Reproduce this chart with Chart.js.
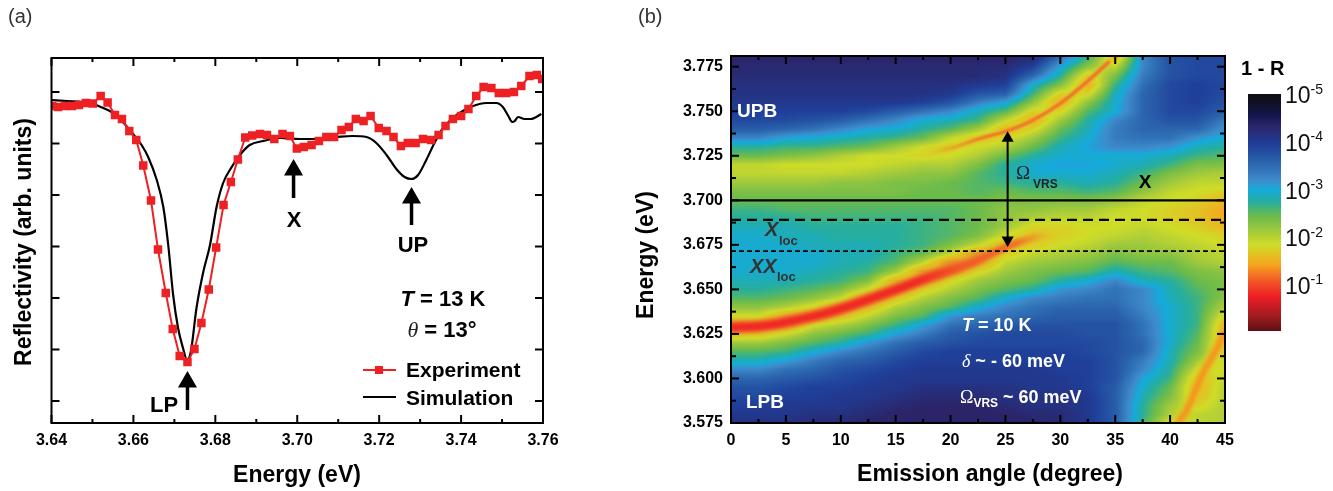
<!DOCTYPE html>
<html>
<head>
<meta charset="utf-8">
<title>Reflectivity and dispersion</title>
<script src="https://cdn.jsdelivr.net/npm/chart.js@4"></script>
<style>
  html, body { margin: 0; padding: 0; background: #fff; }
  #stage { position: relative; width: 1333px; height: 491px; overflow: hidden; }
  canvas { position: absolute; top: 0; }
</style>
</head>
<body>
<div id="stage">
  <canvas id="reflectChart" width="620" height="491" style="left:0"></canvas>
  <canvas id="heatChart" width="620" height="491" style="left:620px"></canvas>
  <canvas id="barChart" width="93" height="491" style="left:1240px"></canvas>
</div>
<script>
// panel (a) - reflectivity, y is in arbitrary units
const expEnergy = [3.6402,3.6416,3.6433,3.6450,3.6467,3.6484,3.6501,3.6520,3.6537,3.6555,3.6572,3.6590,3.6607,3.6624,3.6643,
  3.6660,3.6679,3.6696,3.6713,3.6732,3.6749,3.6766,3.6784,3.6802,
  3.6820,3.6838,3.6855,3.6873,3.6890,3.6909,3.6926,3.6944,3.6964,3.6982,3.6999,
  3.7016,3.7035,3.7053,3.7071,3.7090,3.7108,3.7126,3.7143,3.7162,3.7179,3.7199,3.7218,3.7235,3.7253,3.7270,3.7289,3.7307,3.7327,
  3.7345,3.7362,3.7380,3.7400,3.7418,3.7437,3.7455,3.7474,3.7492,3.7510,3.7529,3.7547,3.7567,3.7585,3.7598];
const expReflect = [317,316,317,317,318,320,319.5,327,320.5,308,304,292,283,257.5,222.5,
  173.5,130,94,67,61,74,100,133.5,175.5,
  218,241,263.5,285.5,287.5,289,288,284,289,287,274.5,
  276,278,282,286,286,293,296,304,302,307,295,292,286,277,280,280,284,283,
  288,297,304,307,314,327,336,335,330,330,331,337,347,348,344];
const simEnergy = [3.6400,3.6437,3.6477,3.6501,3.6526,3.6550,3.6574,3.6599,3.6620,3.6636,3.6657,3.6673,3.6685,3.6697,3.6709,3.6721,3.6731,3.6740,3.6754,3.6770,3.6787,
  3.6803,3.6819,3.6840,3.6860,3.6884,3.6917,3.6957,3.7006,3.7038,3.7096,3.7135,3.7169,3.7193,3.7218,3.7242,3.7262,3.7279,3.7295,3.7315,3.7335,3.7356,3.7380,3.7404,3.7429,3.7461,3.7486,3.7502,3.7514,3.7525,3.7531,3.7539,3.7555,3.7571,3.7596];
const simReflect = [323,322,321,319,315,310,301,289,278,266,243,216,178,128,95,75,63,71,115,150,178,
  216,240,256,268,278,282,285,284,284,286,287,286,280,268,254,246,244,248,263,280,295,305,312,317,320,320,316,308,301,302,306,304,304,309];
const arrowX = [[3.6991,225],[3.6991,253]];
const arrowUP = [[3.7279,198],[3.7279,225]];
const arrowLP = [[3.6732,13],[3.6732,41]];

// panel (b) - values are -log10(1-R) x 10, one list per angle, bottom (3.575) to top (3.78)
const heatAngles = [0,2.5,5,7.5,10,12.5,15,17.5,20,22.5,25,27.5,30,32.5,35,37.5,40,42.5,45];
const heatEnergies = [3.575,3.58,3.585,3.59,3.595,3.6,3.605,3.61,3.615,3.62,3.625,3.63,3.635,3.64,3.645,3.65,3.655,3.66,3.665,3.67,3.675,3.68,3.685,3.69,3.695,3.7,3.705,3.71,3.715,3.72,3.725,3.73,3.735,3.74,3.745,3.75,3.755,3.76,3.765,3.77,3.775,3.78];
const heatValues = [
  [42,41,40,39,38,36,33,29,26,22,16,10,19,23,26,28,29,30,30,30,30,30,29,28,27,25,24,22,20,20,25,28,33,37,39,40,41,42,42,43,43,44],
  [42,41,40,39,38,36,33,29,26,22,16,10,19,23,26,28,29,30,30,30,30,30,29,28,27,25,24,22,20,20,25,28,33,37,39,40,41,42,42,43,43,44],
  [42,41,41,40,39,37,35,31,27,24,19,11,13,21,25,27,29,30,30,30,30,29,29,28,26,25,24,22,20,19,24,27,31,36,39,40,41,42,42,43,43,44],
  [43,42,41,40,40,38,36,34,30,26,23,19,10,18,23,26,28,29,30,30,29,29,28,27,26,25,24,22,20,19,23,27,30,35,38,40,41,42,42,43,43,44],
  [43,42,41,41,40,39,38,36,33,28,25,21,15,11,20,24,27,28,29,29,29,28,28,27,26,25,24,23,20,19,21,26,29,33,37,40,41,42,42,43,43,44],
  [44,43,42,41,41,40,39,37,35,32,27,24,20,15,10,19,24,27,28,29,29,28,28,27,26,25,24,23,21,19,19,25,28,31,35,39,41,42,42,43,43,44],
  [44,44,43,42,41,41,40,39,37,35,31,27,24,21,16,11,14,22,26,27,28,28,28,27,26,25,24,24,22,20,19,22,27,30,33,37,41,42,42,43,43,44],
  [44,44,44,43,42,41,41,40,39,37,34,31,26,24,21,17,12,12,20,25,27,27,27,27,26,25,25,24,23,21,18,19,25,28,30,35,40,42,42,43,43,44],
  [44,44,44,43,42,41,41,40,40,38,37,35,32,26,24,21,18,12,11,20,24,26,26,26,26,25,25,25,23,21,19,17,20,26,29,33,38,41,42,43,43,44],
  [44,44,44,43,42,41,41,40,40,39,38,36,34,30,26,24,22,18,12,11,20,24,25,25,25,25,26,26,26,24,21,19,16,22,27,29,34,38,41,43,43,44],
  [44,44,43,42,42,41,41,40,40,39,39,37,35,33,30,26,24,22,20,17,14,19,22,23,23,24,25,27,28,28,25,21,18,15,20,26,31,37,40,42,43,44],
  [44,43,42,42,41,41,41,40,40,39,39,38,36,35,33,28,25,24,22,20,17,15,18,21,23,24,26,28,30,30,28,25,22,18,14,18,23,27,30,36,40,43],
  [43,43,42,42,41,41,40,40,40,39,39,38,37,36,34,32,28,25,23,21,19,18,18,20,22,24,26,28,30,31,30,29,27,25,22,18,14,18,24,28,31,35],
  [41,41,41,41,40,40,40,40,39,39,38,38,37,36,35,33,30,26,24,22,20,19,19,20,22,24,27,29,30,31,30,31,30,29,28,26,23,18,14,17,23,27],
  [37,37,37,37,37,38,38,38,38,38,38,38,37,36,35,35,33,29,26,24,22,20,19,19,20,23,26,28,29,30,30,33,34,34,33,30,30,29,27,24,20,15],
  [27,28,28,29,30,31,33,34,36,36,35,35,34,33,33,33,29,27,25,23,22,21,20,19,19,20,23,25,27,29,30,33,35,36,36,36,36,36,35,34,33,33],
  [18,21,22,24,25,27,28,29,29,30,30,30,30,30,29,29,28,26,25,23,21,20,19,18,18,19,20,22,24,27,29,32,35,36,38,39,39,39,39,38,38,38],
  [20,20,18,16,15,16,19,22,24,25,26,27,27,27,27,26,25,24,22,21,20,19,18,17,17,18,19,20,22,24,27,29,32,36,38,39,40,40,40,39,39,39],
  [21,21,21,21,21,20,19,18,17,15,15,15,18,21,23,24,24,23,21,20,19,18,16,15,15,16,18,20,21,24,26,28,30,32,34,37,38,39,39,39,39,39]
];
// bright crests of the branches
const lowerAngle = [0,2.5,4.5,9,13.6,18.1,22,25,27,28.7,31];
const lowerEnergy = [3.6287,3.6293,3.631,3.6373,3.6467,3.6569,3.6651,3.6736,3.678,3.6805,3.683];
const upperAngle = [18,20,22.7,25.1,27.5,30,32.4,34.5];
const upperEnergy = [3.7265,3.7292,3.7348,3.7388,3.7449,3.7544,3.7664,3.7781];
const sideAngle = [40.7,41.5,43,44.2,45];
const sideEnergy = [3.575,3.582,3.603,3.616,3.627];
const lineX = 3.7;
const lineXloc = 3.689;
const lineXXloc = 3.6715;
const arrowVRS = [[25.2,3.6777],[25.2,3.7348]];

// colour scale, value -log10(1-R) against colour
const scaleLevels = [5.06,4.9,4.6,4.4,4.0,3.6,3.25,3.05,2.8,2.5,2.15,1.9,1.5,1.15,0.8,0.4,0.09];
const scaleColors = ["#0d0f14","#0f1020","#141650","#2b2468","#1f3f99","#2b66ae","#3e8ccb","#15aadb","#26ae9e","#6bbb4b","#a8cb3a","#cfdc28","#f5a81f","#f15a26","#ed1c24","#a01c20","#5e1012"];
const scaleTicks = [5,4,3,2,1];

const FONT = '"Liberation Sans", Arial, sans-serif';
const pts = (xs, ys) => xs.map((x, i) => ({ x, y: ys[i] }));
const pairs = list => list.map(p => ({ x: p[0], y: p[1] }));

function hexRgb(hex) {
  return [1, 3, 5].map(i => parseInt(hex.slice(i, i + 2), 16));
}

function levelColor(level) {
  let i = 0;
  while (i < scaleLevels.length - 2 && level < scaleLevels[i + 1]) i++;
  const a = hexRgb(scaleColors[i]), b = hexRgb(scaleColors[i + 1]);
  const t = Math.min(1, Math.max(0, (scaleLevels[i] - level) / (scaleLevels[i] - scaleLevels[i + 1])));
  return a.map((v, k) => Math.round(v + (b[k] - v) * t));
}

// value of the table at an angle and energy, between its four nearest cells
function heatAt(angle, energy) {
  const fx = Math.min(heatAngles.length - 1.001, Math.max(0, angle / (heatAngles[1] - heatAngles[0])));
  const fy = Math.min(heatEnergies.length - 1.001, Math.max(0, (energy - heatEnergies[0]) / (heatEnergies[1] - heatEnergies[0])));
  const i = Math.floor(fx), j = Math.floor(fy), u = fx - i, v = fy - j;
  const a = heatValues[i], b = heatValues[i + 1];
  return ((a[j] * (1 - u) + b[j] * u) * (1 - v) + (a[j + 1] * (1 - u) + b[j + 1] * u) * v) / 10;
}

// text made of several runs, e.g. a subscript after a letter
function textRuns(ctx, x, y, runs, align) {
  ctx.save();
  ctx.textBaseline = "middle";
  ctx.textAlign = "left";
  let width = 0;
  runs.forEach(r => { ctx.font = r.font; width += ctx.measureText(r.text).width; });
  let cx = align === "center" ? x - width / 2 : x;
  runs.forEach(r => {
    ctx.font = r.font;
    ctx.fillStyle = r.color || "#000";
    ctx.fillText(r.text, cx, y + (r.dy || 0));
    cx += ctx.measureText(r.text).width;
  });
  ctx.restore();
}

function bold(text, size, extra) {
  return Object.assign({ text, font: "bold " + size + "px " + FONT }, extra);
}

function axisTitle(ctx, text, x, y, size, rotate) {
  ctx.save();
  ctx.translate(x, y);
  if (rotate) ctx.rotate(-Math.PI / 2);
  ctx.textAlign = "center";
  ctx.textBaseline = "middle";
  ctx.font = "bold " + size + "px " + FONT;
  ctx.fillStyle = "#000";
  ctx.fillText(text, 0, 0);
  ctx.restore();
}

// inward ticks on all four sides plus the frame
function drawFrame(chart, xMajor, xMinor, yMajor, yMinor) {
  const { ctx, chartArea: a, scales } = chart;
  ctx.save();
  ctx.strokeStyle = "#000";
  ctx.lineWidth = 2;
  const tick = (x1, y1, x2, y2) => { ctx.beginPath(); ctx.moveTo(x1, y1); ctx.lineTo(x2, y2); ctx.stroke(); };
  const xTicks = (list, len) => list.forEach(v => {
    const p = scales.x.getPixelForValue(v);
    tick(p, a.bottom, p, a.bottom - len);
    tick(p, a.top, p, a.top + len);
  });
  const yTicks = (list, len) => list.forEach(v => {
    const p = scales.y.getPixelForValue(v);
    tick(a.left, p, a.left + len, p);
    tick(a.right, p, a.right - len, p);
  });
  xTicks(xMajor, 8); xTicks(xMinor, 4);
  yTicks(yMajor, 8); yTicks(yMinor, 5);
  ctx.lineWidth = 2;
  ctx.strokeRect(a.left, a.top, a.right - a.left, a.bottom - a.top);
  ctx.restore();
}

function axesOptions(xMin, xMax, xStep, xDigits, yMin, yMax, yStep, yLabels, yWidth) {
  return {
    x: {
      type: "linear", min: xMin, max: xMax,
      grid: { display: false }, border: { display: false },
      afterFit: s => { s.height = 30; },
      ticks: {
        stepSize: xStep, includeBounds: false, maxRotation: 0, autoSkip: false, padding: 0,
        color: "#000", font: { family: FONT, size: 16, weight: "bold" },
        callback: v => v.toFixed(xDigits)
      }
    },
    y: {
      type: "linear", min: yMin, max: yMax,
      grid: { display: false }, border: { display: false },
      afterFit: s => { s.width = yWidth; },
      ticks: {
        display: yLabels, stepSize: yStep, includeBounds: false, autoSkip: false, padding: 0,
        color: "#000", font: { family: FONT, size: 16, weight: "bold" },
        callback: v => v.toFixed(3)
      }
    }
  };
}

const reflectPlugin = {
  id: "reflectPlugin",
  afterDraw(chart) {
    const ctx = chart.ctx;
    drawFrame(chart,
      [3.64,3.66,3.68,3.7,3.72,3.74,3.76], [3.65,3.67,3.69,3.71,3.73,3.75],
      [22,73.5,125,176.5,228,279.5,331], []);
    axisTitle(ctx, "Energy (eV)", 297, 476, 23, false);
    axisTitle(ctx, "Reflectivity (arb. units)", 25, 242, 23, true);
    textRuns(ctx, 8, 17, [{ text: "(a)", font: "20px " + FONT, color: "#333" }]);
    textRuns(ctx, 294, 221, [bold("X", 22)], "center");
    textRuns(ctx, 413, 246, [bold("UP", 22)], "center");
    textRuns(ctx, 164, 406, [bold("LP", 22)], "center");
    textRuns(ctx, 443, 300, [
      { text: "T", font: "italic bold 22px " + FONT },
      bold(" = 13 K", 22)
    ], "center");
    textRuns(ctx, 442, 331, [
      { text: "θ", font: "italic 22px \"Liberation Serif\", serif", color: "#222" },
      bold(" = 13°", 22)
    ], "center");
    // legend
    ctx.save();
    ctx.strokeStyle = "#ed2024"; ctx.lineWidth = 2;
    ctx.beginPath(); ctx.moveTo(363, 370); ctx.lineTo(396, 370); ctx.stroke();
    ctx.fillStyle = "#ed2024"; ctx.fillRect(375, 366, 8, 8);
    ctx.strokeStyle = "#000";
    ctx.beginPath(); ctx.moveTo(363, 397); ctx.lineTo(396, 397); ctx.stroke();
    ctx.restore();
    textRuns(ctx, 406, 371, [bold("Experiment", 21)]);
    textRuns(ctx, 406, 399, [bold("Simulation", 21)]);
  }
};

const arrowStyle = size => ({
  showLine: true, borderColor: "#000", backgroundColor: "#000", borderWidth: 3.5,
  pointStyle: "triangle", pointRadius: [0, size], pointBorderWidth: 0
});

new Chart(document.getElementById("reflectChart"), {
  type: "scatter",
  data: {
    datasets: [
      Object.assign({ data: pairs(arrowX) }, arrowStyle(11)),
      Object.assign({ data: pairs(arrowUP) }, arrowStyle(11)),
      Object.assign({ data: pairs(arrowLP) }, arrowStyle(11)),
      {
        label: "Experiment", data: pts(expEnergy, expReflect), showLine: true,
        borderColor: "#ed2024", backgroundColor: "#ed2024", borderWidth: 2,
        pointStyle: "rect", pointRadius: 6, pointBorderWidth: 0, clip: 0
      },
      {
        label: "Simulation", data: pts(simEnergy, simReflect), showLine: true,
        borderColor: "#000", borderWidth: 2.2, pointRadius: 0,
        cubicInterpolationMode: "monotone"
      }
    ]
  },
  options: {
    responsive: false, animation: false,
    layout: { padding: { left: 0, top: 58, right: 77, bottom: 38 } },
    plugins: { legend: { display: false }, tooltip: { enabled: false } },
    scales: axesOptions(3.64, 3.76, 0.02, 2, 0, 365, 51.5, false, 51.5)
  },
  plugins: [reflectPlugin]
});

const heatPlugin = {
  id: "heatPlugin",
  beforeDatasetsDraw(chart) {
    const { ctx, chartArea: a, scales } = chart;
    const left = Math.round(a.left), top = Math.round(a.top);
    const w = Math.round(a.right - a.left), h = Math.round(a.bottom - a.top);
    const img = ctx.createImageData(w, h);
    for (let py = 0; py < h; py++) {
      const energy = scales.y.getValueForPixel(top + py + 0.5);
      for (let px = 0; px < w; px++) {
        const c = levelColor(heatAt(scales.x.getValueForPixel(left + px + 0.5), energy));
        const k = (py * w + px) * 4;
        img.data[k] = c[0]; img.data[k + 1] = c[1]; img.data[k + 2] = c[2]; img.data[k + 3] = 255;
      }
    }
    ctx.putImageData(img, left, top);
  },
  beforeDatasetDraw(chart, args) {
    const blur = chart.data.datasets[args.index].blur;
    if (blur) chart.ctx.filter = "blur(" + blur + "px)";
  },
  afterDatasetDraw(chart) {
    chart.ctx.filter = "none";
  },
  afterDraw(chart) {
    const ctx = chart.ctx;
    const tx = x => x - 620;
    drawFrame(chart,
      [0,5,10,15,20,25,30,35,40,45], [2.5,7.5,12.5,17.5,22.5,27.5,32.5,37.5,42.5],
      [3.575,3.6,3.625,3.65,3.675,3.7,3.725,3.75,3.775], [3.5875,3.6125,3.6375,3.6625,3.6875,3.7125,3.7375,3.7625]);
    axisTitle(ctx, "Emission angle (degree)", tx(990), 475, 23, false);
    axisTitle(ctx, "Energy (eV)", tx(647), 255, 23, true);
    textRuns(ctx, tx(638), 17, [{ text: "(b)", font: "20px " + FONT, color: "#333" }]);
    const white = { color: "#fff" };
    textRuns(ctx, tx(737), 112, [bold("UPB", 19, white)]);
    textRuns(ctx, tx(746), 403, [bold("LPB", 19, white)]);
    textRuns(ctx, tx(962), 326, [
      { text: "T", font: "italic bold 18px " + FONT, color: "#fff" }, bold(" = 10 K", 18, white)
    ]);
    textRuns(ctx, tx(962), 362, [
      { text: "δ", font: "italic 18px \"Liberation Serif\", serif", color: "#fff" }, bold(" ~ - 60 meV", 18, white)
    ]);
    textRuns(ctx, tx(960), 398, [
      { text: "Ω", font: "18px \"Liberation Serif\", serif", color: "#fff" },
      bold("VRS", 12, { color: "#fff", dy: 6 }),
      bold(" ~ 60 meV", 18, white)
    ]);
    textRuns(ctx, tx(765), 230, [
      { text: "X", font: "italic bold 20px " + FONT, color: "#333" }
    ]);
    textRuns(ctx, tx(779), 241, [bold("loc", 13, { color: "#333" })]);
    textRuns(ctx, tx(750), 267, [
      { text: "XX", font: "italic bold 20px " + FONT, color: "#333" }
    ]);
    textRuns(ctx, tx(777), 277, [bold("loc", 13, { color: "#333" })]);
    textRuns(ctx, tx(1016), 174, [{ text: "Ω", font: "19px \"Liberation Serif\", serif", color: "#222" }]);
    textRuns(ctx, tx(1033), 185, [bold("VRS", 12, { color: "#222" })]);
    textRuns(ctx, tx(1145), 183, [bold("X", 19)], "center");
  }
};

const flatLine = (value, dash) => ({
  data: [{ x: 0, y: value }, { x: 45, y: value }], showLine: true,
  borderColor: "#000", borderWidth: dash === 2 ? 1.8 : 2.2, borderDash: dash === 2 ? [5, 3] : dash ? [10, 6] : [], pointRadius: 0
});

// colour along a crest, stops are [angle, colour]
const alongAngle = stops => c => {
  const { chartArea: a, ctx, scales } = c.chart;
  if (!a) return stops[0][1];
  const g = ctx.createLinearGradient(a.left, 0, a.right, 0);
  stops.forEach(s => g.addColorStop((scales.x.getPixelForValue(s[0]) - a.left) / (a.right - a.left), s[1]));
  return g;
};
const crest = (xs, ys, color, width, blur) => ({
  data: pts(xs, ys), showLine: true, borderColor: color, borderWidth: width,
  pointRadius: 0, tension: 0.4, borderCapStyle: "butt", blur
});

new Chart(document.getElementById("heatChart"), {
  type: "scatter",
  data: {
    datasets: [
      Object.assign({ data: pairs(arrowVRS) }, {
        showLine: true, borderColor: "#000", backgroundColor: "#000", borderWidth: 2,
        pointStyle: "triangle", pointRadius: 7, pointRotation: [180, 0], pointBorderWidth: 0
      }),
      flatLine(lineX, 0),
      flatLine(lineXloc, 1),
      flatLine(lineXXloc, 2),
      crest(upperAngle, upperEnergy, alongAngle([[18, "rgba(244,101,42,0)"], [23, "rgba(244,101,42,.9)"], [45, "rgba(244,101,42,1)"]]), 3.5, 0.8),
      crest(upperAngle, upperEnergy, alongAngle([[18, "rgba(215,220,40,0)"], [21, "rgba(215,220,40,.6)"], [45, "rgba(215,220,40,.6)"]]), 9, 2),
      crest(lowerAngle, lowerEnergy, alongAngle([[0, "#ee2a24"], [17, "#ee2a24"], [21, "#f15a26"], [26, "rgba(242,101,42,.85)"], [29, "rgba(242,130,42,0)"], [45, "rgba(242,130,42,0)"]]), 7.5, 1.5),
      crest(lowerAngle, lowerEnergy, alongAngle([[0, "#f3702a"], [19, "#f3702a"], [25, "rgba(243,112,42,0)"], [45, "rgba(243,112,42,0)"]]), 13, 1.8),
      crest(lowerAngle, lowerEnergy, alongAngle([[0, "rgba(200,218,42,.6)"], [22, "rgba(200,218,42,.6)"], [28, "rgba(215,220,40,.45)"], [31, "rgba(215,220,40,0)"], [45, "rgba(215,220,40,0)"]]), 21, 3),
      crest(sideAngle, sideEnergy, "#f6921e", 7, 2),
      crest(sideAngle, sideEnergy, "rgba(215,220,40,.7)", 14, 2.5)
    ]
  },
  options: {
    responsive: false, animation: false,
    layout: { padding: { left: 0, top: 56, right: 15, bottom: 38 } },
    plugins: { legend: { display: false }, tooltip: { enabled: false } },
    scales: axesOptions(0, 45, 5, 0, 3.575, 3.781, 0.025, true, 111)
  },
  plugins: [heatPlugin]
});

const barPlugin = {
  id: "barPlugin",
  afterDraw(chart) {
    const ctx = chart.ctx, y = chart.scales.y;
    scaleTicks.forEach(t => {
      textRuns(ctx, 45, y.getPixelForValue(t), [
        { text: "10", font: "23px " + FONT, color: "#111" },
        { text: "-" + t, font: "14px " + FONT, color: "#111", dy: -7 }
      ]);
    });
    textRuns(ctx, 1, 69, [bold("1 - R", 20)]);
  }
};

new Chart(document.getElementById("barChart"), {
  type: "bar",
  data: {
    labels: ["1 - R"],
    datasets: [{
      data: [[scaleLevels[scaleLevels.length - 1], scaleLevels[0]]],
      barPercentage: 1, categoryPercentage: 1,
      backgroundColor(c) {
        const area = c.chart.chartArea;
        if (!area) return "#000";
        const g = c.chart.ctx.createLinearGradient(0, area.top, 0, area.bottom);
        const span = scaleLevels[0] - scaleLevels[scaleLevels.length - 1];
        scaleLevels.forEach((l, i) => g.addColorStop((scaleLevels[0] - l) / span, scaleColors[i]));
        return g;
      }
    }]
  },
  options: {
    responsive: false, animation: false,
    layout: { padding: { left: 8, top: 94, right: 52, bottom: 160 } },
    plugins: { legend: { display: false }, tooltip: { enabled: false } },
    scales: {
      x: { display: false },
      y: { display: false, min: scaleLevels[scaleLevels.length - 1], max: scaleLevels[0] }
    }
  },
  plugins: [barPlugin]
});
</script>
</body>
</html>
